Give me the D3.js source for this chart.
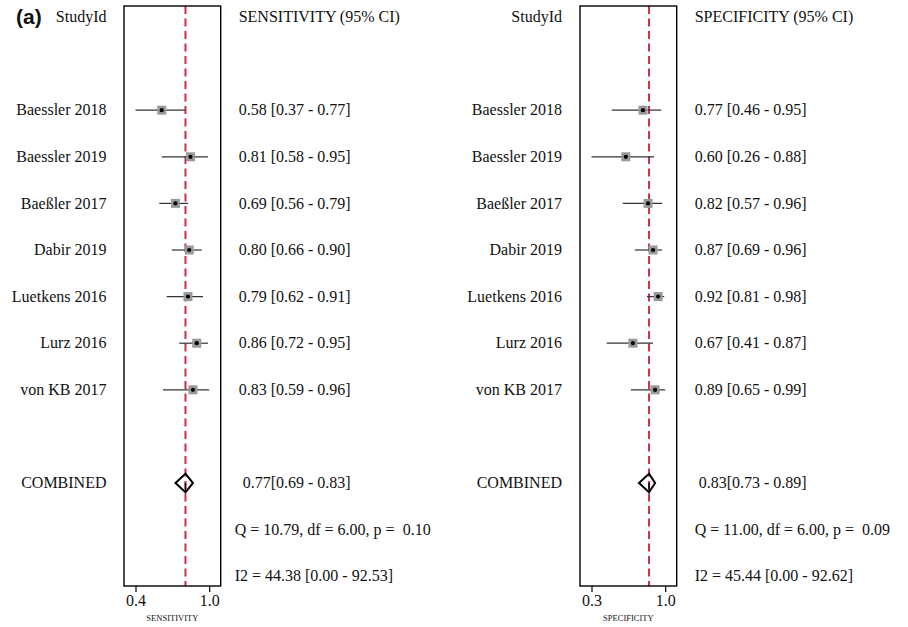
<!DOCTYPE html>
<html>
<head>
<meta charset="utf-8">
<script src="https://cdn.jsdelivr.net/npm/d3@7/dist/d3.min.js"></script>
<style>
  html, body { margin: 0; padding: 0; background: #fff; }
  svg { display: block; }
  text { font-family: "Liberation Serif", "Times New Roman", serif; fill: #111; white-space: pre; }
</style>
</head>
<body>
<svg id="chart" width="908" height="627"></svg>
<script>
// Studies shown in both forest plots
const studies = ["Baessler 2018", "Baessler 2019", "Baeßler 2017", "Dabir 2019",
                 "Luetkens 2016", "Lurz 2016", "von KB 2017"];

// Sensitivity estimates with 95% CI
const sensEst = [0.58, 0.81, 0.69, 0.80, 0.79, 0.86, 0.83];
const sensLo  = [0.37, 0.58, 0.56, 0.66, 0.62, 0.72, 0.59];
const sensHi  = [0.77, 0.95, 0.79, 0.90, 0.91, 0.95, 0.96];
const sensPooled = [0.77, 0.69, 0.83];           // estimate, lower, upper
const sensQ  = ["10.79", "6.00", "0.10"];        // Q, df, p
const sensI2 = ["44.38", "0.00", "92.53"];       // I2, lower, upper

// Specificity estimates with 95% CI
const specEst = [0.77, 0.60, 0.82, 0.87, 0.92, 0.67, 0.89];
const specLo  = [0.46, 0.26, 0.57, 0.69, 0.81, 0.41, 0.65];
const specHi  = [0.95, 0.88, 0.96, 0.96, 0.98, 0.87, 0.99];
const specPooled = [0.83, 0.73, 0.89];
const specQ  = ["11.00", "6.00", "0.09"];
const specI2 = ["45.44", "0.00", "92.62"];

const svg = d3.select("#chart");
const f2 = d3.format(".2f");

// Row layout: 0 header, 2..8 studies, 10 pooled, 11 Q, 12 I2
const yRow = d3.scaleLinear().domain([0, 12]).range([17, 576.2]);
const boxTop = 6, boxBottom = 586;
const RED = "#c9304a";

svg.append("text")
  .attr("x", 16).attr("y", 24)
  .style("font-family", "'Liberation Sans', Arial, sans-serif")
  .style("font-weight", "bold").style("font-size", "21px")
  .text("(a)");

function panel(cfg) {
  const g = svg.append("g");
  const est = cfg.est, lo = cfg.lo, hi = cfg.hi;
  const lo0 = d3.min(lo), hi0 = d3.max(hi);
  const pad = 11.5;
  const x = d3.scaleLinear().domain([lo0, hi0]).range([cfg.x0 + pad, cfg.x1 - pad]);

  // Study labels, right aligned
  g.append("text").attr("x", cfg.labelX).attr("y", yRow(0)).attr("dy", "0.33em")
    .attr("text-anchor", "end").style("font-size", "16px").text("StudyId");
  g.selectAll("text.study").data(studies).join("text")
    .attr("class", "study")
    .attr("x", cfg.labelX).attr("y", (d, i) => yRow(i + 2)).attr("dy", "0.33em")
    .attr("text-anchor", "end").style("font-size", "16px").text(d => d);
  g.append("text").attr("x", cfg.labelX).attr("y", yRow(10)).attr("dy", "0.33em")
    .attr("text-anchor", "end").style("font-size", "16px").text("COMBINED");

  // Pooled reference line
  g.append("line")
    .attr("x1", x(cfg.pooled[0])).attr("x2", x(cfg.pooled[0]))
    .attr("y1", boxTop).attr("y2", boxBottom)
    .attr("stroke", RED).attr("stroke-width", 2).attr("stroke-dasharray", "8,4.5");

  // Confidence intervals
  g.selectAll("line.ci").data(est).join("line")
    .attr("class", "ci")
    .attr("x1", (d, i) => x(lo[i])).attr("x2", (d, i) => x(hi[i]))
    .attr("y1", (d, i) => yRow(i + 2)).attr("y2", (d, i) => yRow(i + 2))
    .attr("stroke", "#333").attr("stroke-width", 1.2);

  // Weight squares and point estimates
  const s = 9;
  g.selectAll("rect.w").data(est).join("rect")
    .attr("class", "w")
    .attr("x", d => x(d) - s / 2).attr("y", (d, i) => yRow(i + 2) - s / 2)
    .attr("width", s).attr("height", s).attr("fill", "#999");
  g.selectAll("circle.pt").data(est).join("circle")
    .attr("class", "pt")
    .attr("cx", d => x(d)).attr("cy", (d, i) => yRow(i + 2)).attr("r", 2.1)
    .attr("fill", "#000");

  // Pooled diamond spanning its CI
  const yc = yRow(10), h = 9.3;
  const [pe, pl, pu] = cfg.pooled;
  g.append("path")
    .attr("d", `M${x(pl)},${yc} L${x(pe)},${yc - h} L${x(pu)},${yc} L${x(pe)},${yc + h} Z`)
    .attr("fill", "none").attr("stroke", "#000").attr("stroke-width", 2);
  g.append("line")
    .attr("x1", x(pe)).attr("x2", x(pe)).attr("y1", yc).attr("y2", yc + h)
    .attr("stroke", "#000").attr("stroke-width", 1.5);

  // Frame
  g.append("rect")
    .attr("x", cfg.x0).attr("y", boxTop)
    .attr("width", cfg.x1 - cfg.x0).attr("height", boxBottom - boxTop)
    .attr("fill", "none").attr("stroke", "#000").attr("stroke-width", 1.4);

  // Axis with ticks at the extreme CI bounds
  const axis = d3.axisBottom(x).tickValues([lo0, hi0]).tickFormat(d3.format(".1f"))
    .tickSize(6).tickSizeOuter(0).tickPadding(3);
  const ag = g.append("g").attr("transform", `translate(0,${boxBottom})`).call(axis);
  ag.select(".domain").remove();
  ag.selectAll(".tick line").attr("stroke", "#000").attr("stroke-width", 1.2);
  ag.selectAll(".tick text").style("font-family", "'Liberation Serif', 'Times New Roman', serif")
    .style("font-size", "16px").attr("fill", "#111");
  g.append("text").attr("x", (cfg.x0 + cfg.x1) / 2).attr("y", 621)
    .attr("text-anchor", "middle").style("font-size", "8.5px").text(cfg.axisTitle);

  // Right-hand text column
  const tx = cfg.x1 + 18;
  g.append("text").attr("x", tx).attr("y", yRow(0)).attr("dy", "0.33em")
    .style("font-size", "16px").text(cfg.header);
  g.selectAll("text.val").data(est).join("text")
    .attr("class", "val")
    .attr("x", tx).attr("y", (d, i) => yRow(i + 2)).attr("dy", "0.33em")
    .style("font-size", "16px")
    .text((d, i) => `${f2(d)} [${f2(lo[i])} - ${f2(hi[i])}]`);
  g.append("text").attr("x", tx + 4).attr("y", yRow(10)).attr("dy", "0.33em")
    .style("font-size", "16px")
    .text(`${f2(pe)}[${f2(pl)} - ${f2(pu)}]`);
  g.append("text").attr("x", tx - cfg.statShift).attr("y", yRow(11)).attr("dy", "0.33em")
    .style("font-size", "16px")
    .text(`Q = ${cfg.q[0]}, df = ${cfg.q[1]}, p =  ${cfg.q[2]}`);
  g.append("text").attr("x", tx - cfg.statShift).attr("y", yRow(12)).attr("dy", "0.33em")
    .style("font-size", "16px")
    .text(`I2 = ${cfg.i2[0]} [${cfg.i2[1]} - ${cfg.i2[2]}]`);
}

panel({ x0: 124, x1: 220.7, labelX: 106.5, est: sensEst, lo: sensLo, hi: sensHi,
        pooled: sensPooled, q: sensQ, i2: sensI2, statShift: 4,
        header: "SENSITIVITY (95% CI)", axisTitle: "SENSITIVITY" });
panel({ x0: 580, x1: 676.7, labelX: 562, est: specEst, lo: specLo, hi: specHi,
        pooled: specPooled, q: specQ, i2: specI2, statShift: 0,
        header: "SPECIFICITY (95% CI)", axisTitle: "SPECIFICITY" });
</script>
</body>
</html>
